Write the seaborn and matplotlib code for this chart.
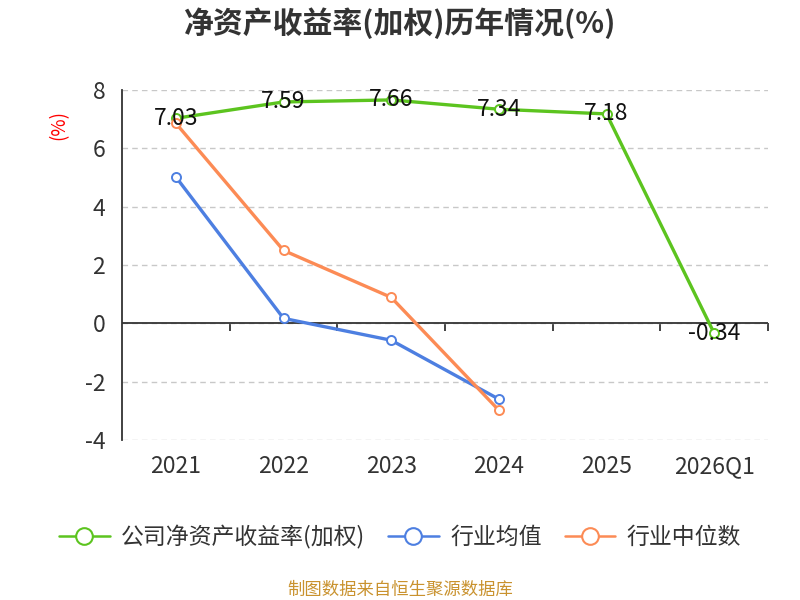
import pandas as pd
import numpy as np
import matplotlib.pyplot as plt
import seaborn as sns

# datos
periodos = ['2021', '2022', '2023', '2024', '2025', '2026Q1']
roe_empresa = [7.03, 7.59, 7.66, 7.34, 7.18, -0.34]
media_sector = [5.02, 0.17, -0.58, -2.60]
mediana_sector = [6.86, 2.50, 0.89, -2.98]

nombres = ['公司净资产收益率(加权)', '行业均值', '行业中位数']
colores = ['#5cc41f', '#4d7fe1', '#fc8b55']

df = pd.concat([
    pd.DataFrame({'periodo': periodos, 'valor': roe_empresa, 'serie': nombres[0]}),
    pd.DataFrame({'periodo': periodos[:4], 'valor': media_sector, 'serie': nombres[1]}),
    pd.DataFrame({'periodo': periodos[:4], 'valor': mediana_sector, 'serie': nombres[2]}),
])

sns.set_style('white')
plt.rcParams['font.family'] = ['Noto Sans CJK SC', 'DejaVu Sans']
plt.rcParams['axes.unicode_minus'] = False

fig = plt.figure(figsize=(8, 6), dpi=100)
ax = fig.add_axes([0.1525, 0.2667, 0.8075, 0.5833])

sns.lineplot(data=df, x='periodo', y='valor', hue='serie', hue_order=nombres,
             palette=colores, linewidth=2.4, marker='o', markersize=6.5,
             markerfacecolor='white', markeredgewidth=1.4, sort=False,
             legend=False, ax=ax)
# bordes de marcador del mismo color que cada línea
for linea, c in zip(ax.lines, colores):
    linea.set_markeredgecolor(c)

# etiquetas de la serie principal
for i, v in enumerate(roe_empresa):
    ax.text(i, v, f'{v:.2f}', ha='center', va='center', fontsize=16.5,
            color='#111111', zorder=5)

ax.set_xlim(-0.5, len(periodos) - 0.5)
ax.set_ylim(-4, 8)
ax.set_yticks(np.arange(-4, 9, 2))
ax.yaxis.grid(True, linestyle=(0, (4, 3)), color='#c8c8c8', linewidth=1)
ax.set_axisbelow(True)
ax.axhline(0, color='#333333', linewidth=1.3, zorder=1)

for lado in ['top', 'right', 'bottom']:
    ax.spines[lado].set_visible(False)
ax.spines['left'].set_color('#333333')
ax.spines['left'].set_linewidth(1.3)

ax.tick_params(axis='y', length=7, width=1.3, color='#333333',
               labelsize=16.5, labelcolor='#333333', pad=5)
ax.tick_params(axis='x', length=0, labelsize=16.5, labelcolor='#333333', pad=11)
ax.set_xlabel('')
ax.set_ylabel('(%)', color='red', fontsize=13.5)
ax.yaxis.set_label_coords(-0.082, 0.9)

# eje secundario en y=0 con marcas entre categorías
eje0 = ax.secondary_xaxis(1 / 3)
eje0.set_xticks(np.arange(0.5, len(periodos) - 0.5 + 0.01, 1.0))
eje0.set_xticklabels([])
eje0.tick_params(length=6, width=1.3, color='#333333', direction='out')
eje0.spines['bottom'].set_visible(False)
eje0.spines['top'].set_visible(False)

fig.text(0.5, 0.962, '净资产收益率(加权)历年情况(%)', ha='center', va='center',
         fontsize=21.5, fontweight='bold', color='#333333')

handles = [plt.Line2D([], [], color=c, linewidth=1.8, marker='o', markersize=12,
                      markerfacecolor='white', markeredgewidth=1.5)
           for c in colores]
fig.legend(handles, nombres, loc='center', bbox_to_anchor=(0.5, 0.105), ncol=3,
           frameon=False, fontsize=16.5, handlelength=2.2, columnspacing=1.0,
           handletextpad=0.5, labelcolor='#333333')

fig.text(0.5, 0.017, '制图数据来自恒生聚源数据库', ha='center', va='center',
         fontsize=12.5, color='#c9922e')

plt.savefig('out.png', dpi=100)
